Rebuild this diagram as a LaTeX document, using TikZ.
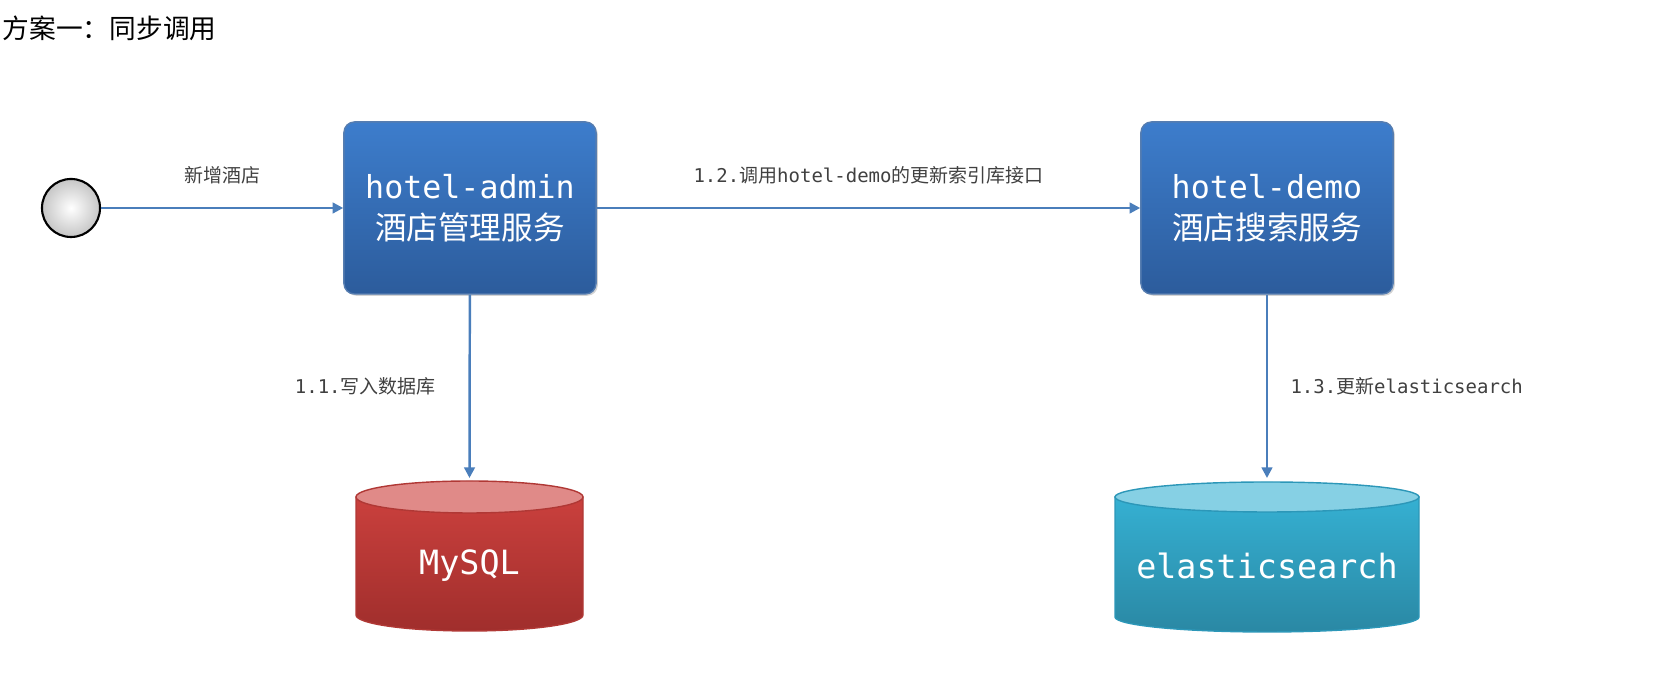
\documentclass[tikz,border=0pt]{standalone}
\usepackage{fontspec}
\setmainfont{Noto Sans CJK SC}
\newfontfamily\cjk{Noto Sans CJK SC}
\newfontfamily\mono{DejaVu Sans Mono}
\usetikzlibrary{arrows.meta,shadows}
\definecolor{boxtop}{HTML}{3D7DCC}
\definecolor{boxbot}{HTML}{2C5C9C}
\definecolor{linec}{HTML}{4A7EBB}
\definecolor{txt}{HTML}{404040}
\definecolor{redtop}{HTML}{CA403D}
\definecolor{redbot}{HTML}{A02E2C}
\definecolor{redcap}{HTML}{E08A88}
\definecolor{redline}{HTML}{B03835}
\definecolor{estop}{HTML}{35B0D2}
\definecolor{esbot}{HTML}{2A88A4}
\definecolor{escap}{HTML}{86D0E4}
\definecolor{esline}{HTML}{2C97B8}
\begin{document}
\begin{tikzpicture}[x=0.01cm,y=-0.01cm,
  svc/.style={rounded corners=10pt*0.3,top color=boxtop,bottom color=boxbot,draw=boxbot!80!white,line width=0.4pt,
    minimum width=252*0.2845pt,minimum height=172*0.2845pt,text=white,align=center,font=\fontsize{9}{11.5}\selectfont,
    drop shadow={shadow xshift=0.5pt,shadow yshift=-0.5pt,opacity=0.35}},
  conn/.style={draw=linec,line width=0.7pt,-{Triangle[length=3pt,width=3pt]}},
  lbl/.style={text=txt,font=\fontsize{5.4}{6}\selectfont}]
\useasboundingbox (0,0) rectangle (1659,680);
\node[anchor=west,inner sep=0,text=black,font=\fontsize{7.6}{9}\selectfont] (title) at (2,28) {\cjk 方案一：同步调用};
\node[circle,draw=black,line width=0.6pt,minimum size=58*0.2845pt,inner sep=0,
  shading=radial,inner color=white,outer color=gray!45] (start) at (71,208) {};
\node[svc] (admin) at (470,208) {{\mono hotel-admin}\\{\cjk 酒店管理服务}};
\node[svc] (demo) at (1267,208) {{\mono hotel-demo}\\{\cjk 酒店搜索服务}};
% cylinders
\path[top color=redtop,bottom color=redbot,draw=redline,line width=0.4pt]
  (356,497) -- (356,615) arc[start angle=180,end angle=360,x radius=113.5,y radius=-16] -- (583,497) -- cycle;
\path[fill=redcap,draw=redline,line width=0.4pt]
  (469.5,497) ellipse[x radius=113.5,y radius=16];
\coordinate (mysqltop) at (469.5,478);
\node[text=white,font=\mono\fontsize{9.5}{11}\selectfont] (mysql) at (469.5,566) {MySQL};
\path[top color=estop,bottom color=esbot,draw=esline,line width=0.4pt]
  (1115,497) -- (1115,617) arc[start angle=180,end angle=360,x radius=152,y radius=-15] -- (1419,497) -- cycle;
\path[fill=escap,draw=esline,line width=0.4pt]
  (1267,497) ellipse[x radius=152,y radius=15];
\coordinate (estopc) at (1267,478);
\node[text=white,font=\mono\fontsize{9.5}{11}\selectfont] (es) at (1267,566) {elasticsearch};
\draw[conn] (start) -- (admin) node[midway,above=3pt,lbl] {\cjk 新增酒店};
\draw[conn] (admin) -- (demo) node[midway,above=3pt,lbl] {{\mono 1.2.}{\cjk 调用}{\mono hotel-demo}{\cjk 的更新索引库接口}};
\draw[conn] (admin) -- (mysqltop) node[midway,left=6pt,lbl] {{\mono 1.1.}{\cjk 写入数据库}};
\draw[conn] (demo) -- (estopc) node[midway,right=3pt,lbl] {{\mono 1.3.}{\cjk 更新}{\mono elasticsearch}};
\end{tikzpicture}
\end{document}
